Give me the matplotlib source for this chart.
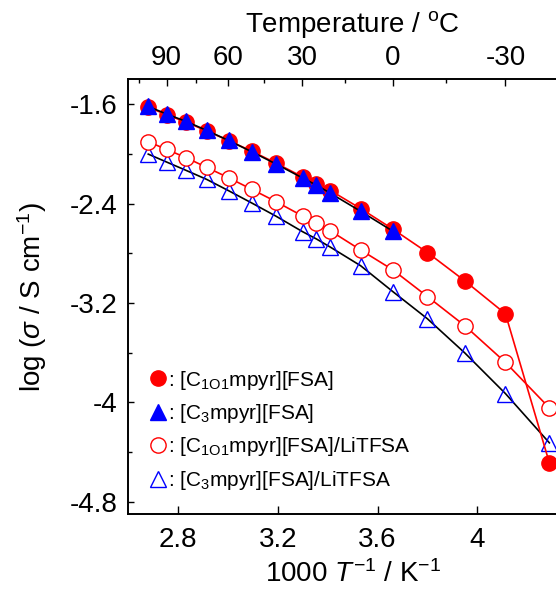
import numpy as np
import matplotlib
matplotlib.use("Agg")
import matplotlib.pyplot as plt
from matplotlib.lines import Line2D

plt.rcParams['font.family'] = ['Liberation Sans', 'DejaVu Sans']
plt.rcParams['mathtext.fontset'] = 'custom'
plt.rcParams['mathtext.rm'] = 'Liberation Sans'
plt.rcParams['mathtext.it'] = 'Liberation Sans:italic'

# 1000/T values (100 C down to -40 C)
x_all = [2.680, 2.754, 2.832, 2.914, 3.002, 3.095, 3.193, 3.299, 3.354,
         3.411, 3.532, 3.661, 3.800, 3.950, 4.113, 4.289]
x_neat_c3 = x_all[:12]

# log(sigma / S cm-1)
c1o1_fsa = [-1.625, -1.685, -1.745, -1.815, -1.893, -1.978, -2.075, -2.185,
            -2.240, -2.295, -2.440, -2.605, -2.794, -3.022, -3.287, -4.486]
c3_fsa = [-1.618, -1.680, -1.739, -1.811, -1.892, -1.983, -2.082, -2.194,
          -2.251, -2.317, -2.462, -2.622]
c1o1_li = [-1.903, -1.964, -2.031, -2.108, -2.192, -2.285, -2.385, -2.500,
           -2.558, -2.620, -2.773, -2.933, -3.148, -3.383, -3.678, -4.044]
c3_li = [-2.002, -2.066, -2.133, -2.205, -2.296, -2.395, -2.502, -2.626,
         -2.684, -2.751, -2.900, -3.108, -3.327, -3.602, -3.929, -4.325]

labels = [': [C$_{\\mathregular{1O1}}$mpyr][FSA]',
          ': [C$_{\\mathregular{3}}$mpyr][FSA]',
          ': [C$_{\\mathregular{1O1}}$mpyr][FSA]/LiTFSA',
          ': [C$_{\\mathregular{3}}$mpyr][FSA]/LiTFSA']

top_major = [90, 60, 30, 0, -30]
top_minor = [105, 75, 45, 15, -15, -45]

fig = plt.figure(figsize=(5.56, 5.91), dpi=100)
ax = fig.add_axes([0.2308, 0.1298, 0.807, 0.736])

fs = 20
ms_c = 11
ms_t = 12
ax.plot(x_all, c1o1_fsa, '-', color='red', lw=1.2, marker='o', ms=ms_c,
        mfc='red', mec='red', zorder=3)
ax.plot(x_neat_c3, c3_fsa, '-', color='black', lw=1.2, marker='^', ms=ms_t,
        mfc='blue', mec='blue', zorder=4)
ax.plot(x_all, c1o1_li, '-', color='red', lw=1.2, marker='o', ms=ms_c,
        mfc='white', mec='red', mew=1.0, zorder=3)
ax.plot(x_all, c3_li, '-', color='black', lw=1.2, marker='^', ms=ms_t,
        mfc='none', mec='blue', mew=1.0, zorder=2)

ax.set_xlim(2.6, 4.4)
ax.set_ylim(-4.9, -1.4)
ax.set_xticks([2.8, 3.2, 3.6, 4.0])
ax.set_xticklabels(['2.8', '3.2', '3.6', '4'])
ax.set_yticks([-1.6, -2.4, -3.2, -4.0, -4.8])
ax.set_yticklabels(['-1.6', '-2.4', '-3.2', '-4', '-4.8'])
ax.set_yticks([-2.0, -2.8, -3.6, -4.4], minor=True)
ax.tick_params(axis='x', which='major', direction='in', length=6, width=1,
               labelsize=fs, pad=9, top=False)
ax.tick_params(axis='y', which='both', direction='in', width=1,
               labelsize=fs, pad=8, right=False)
ax.tick_params(axis='y', which='major', length=4)
ax.tick_params(axis='y', which='minor', length=3)
for s in ax.spines.values():
    s.set_linewidth(1.2)

ax.set_xlabel('1000 $T^{-1}$ / K$^{-1}$', fontsize=fs, labelpad=5)
ax.set_ylabel('log ($\\sigma$ / S cm$^{-1}$)', fontsize=fs, labelpad=15)

ax2 = ax.twiny()
ax2.set_xlim(ax.get_xlim())
ax2.set_xticks([1000 / (t + 273.15) for t in top_major])
ax2.set_xticklabels([str(t) for t in top_major])
ax2.set_xticks([1000 / (t + 273.15) for t in top_minor], minor=True)
ax2.tick_params(axis='x', which='both', direction='in', width=1,
                labelsize=fs, pad=6)
ax2.tick_params(axis='x', which='major', length=5)
ax2.tick_params(axis='x', which='minor', length=3)
ax2.set_xlabel('Temperature / $^{\\mathregular{o}}$C', fontsize=fs, labelpad=9)
for s in ax2.spines.values():
    s.set_linewidth(1.2)

handles = [
    Line2D([], [], ls='none', marker='o', ms=ms_c, mfc='red', mec='red'),
    Line2D([], [], ls='none', marker='^', ms=ms_t, mfc='blue', mec='blue'),
    Line2D([], [], ls='none', marker='o', ms=ms_c, mfc='white', mec='red'),
    Line2D([], [], ls='none', marker='^', ms=ms_t, mfc='white', mec='blue'),
]
ax.legend(handles, labels, loc='upper left', bbox_to_anchor=(0.045, 0.335),
          frameon=False, fontsize=15, handlelength=0.9, handletextpad=0.05,
          labelspacing=0.5, borderpad=0, borderaxespad=0)

fig.savefig('out.png', dpi=100)
